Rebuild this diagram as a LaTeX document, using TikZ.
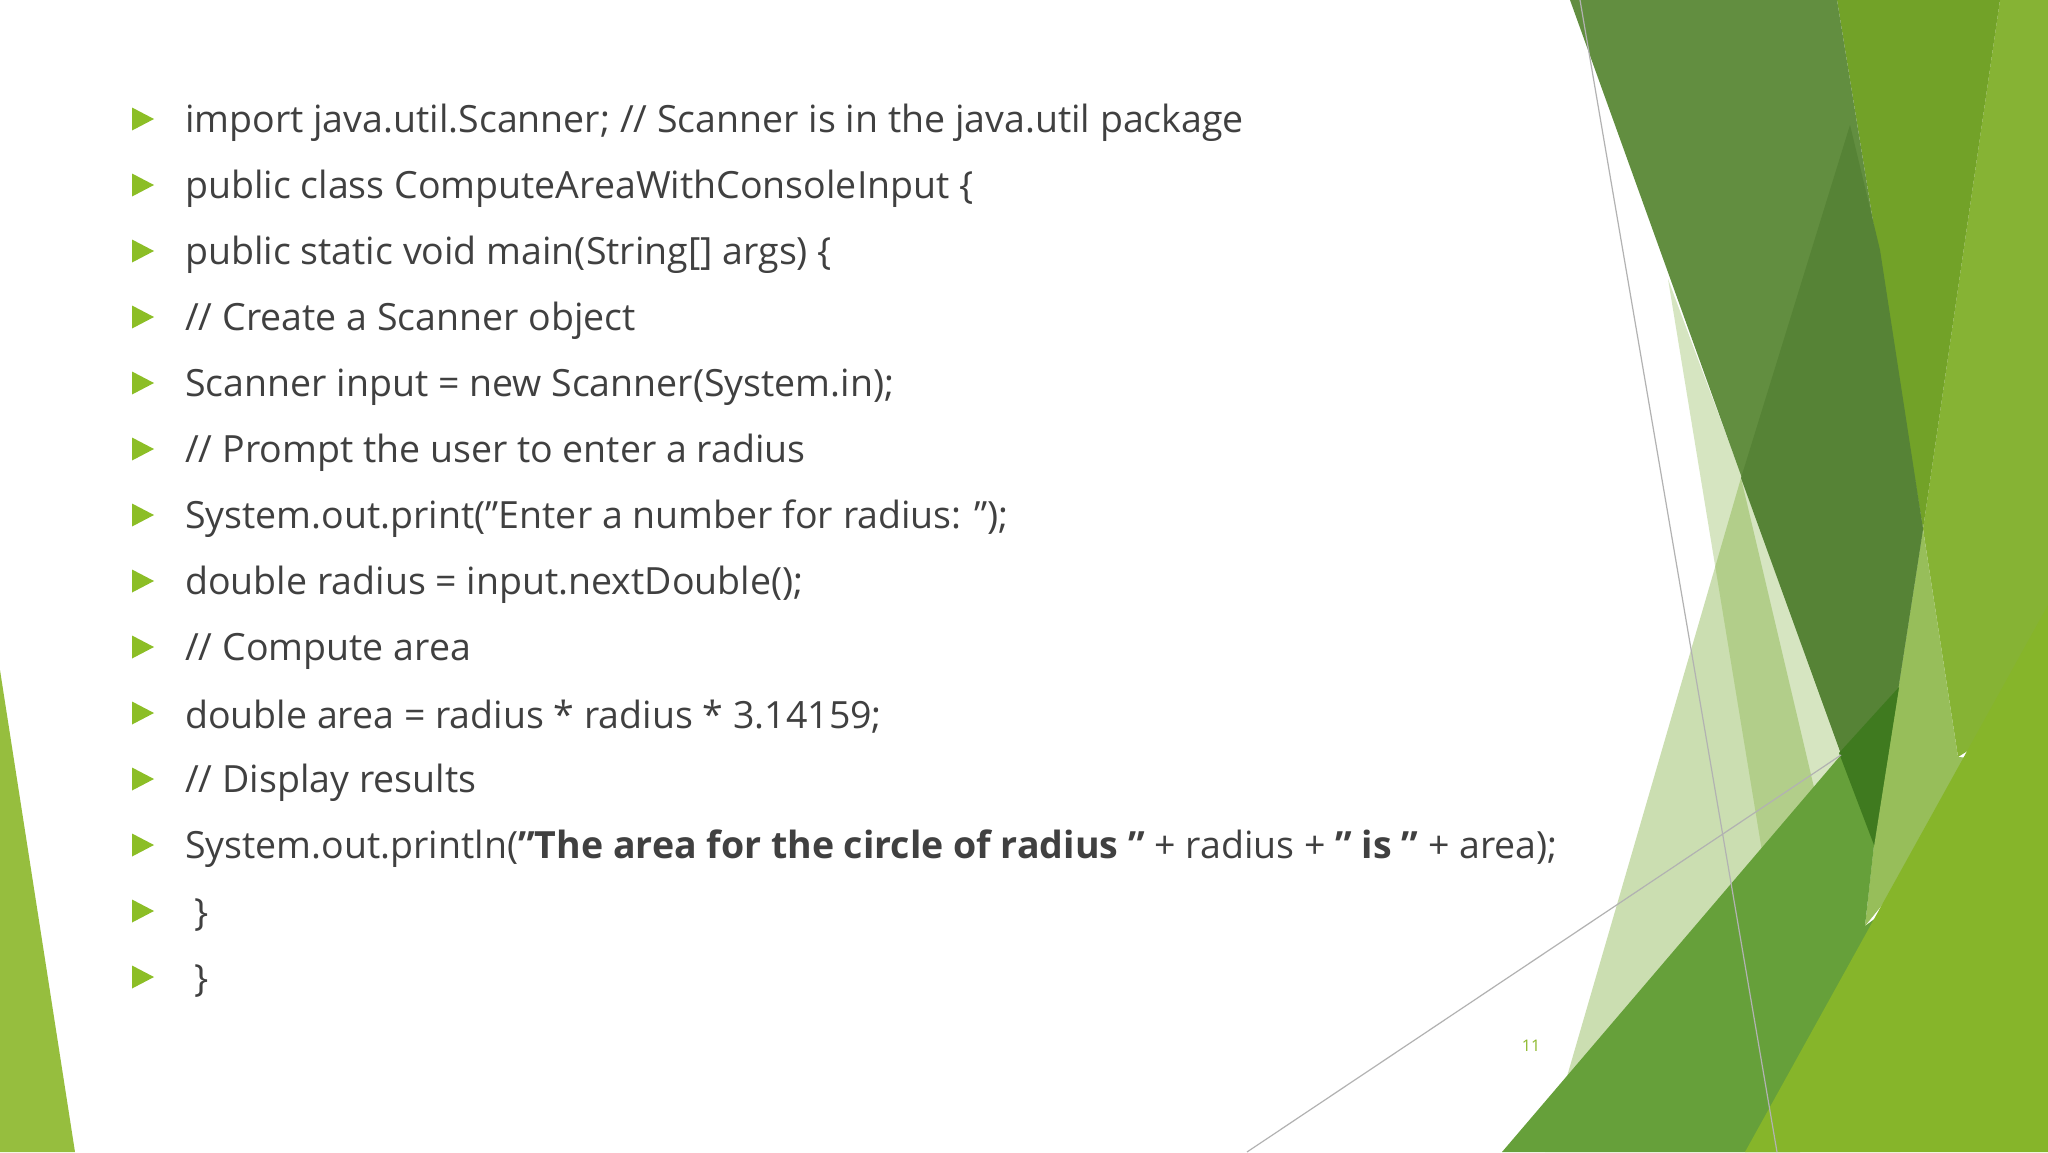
\documentclass[tikz,border=0pt]{standalone}
\usepackage{fontspec}
\setmainfont{Open Sans}
\definecolor{cleft}{RGB}{150,190,62}
\definecolor{cpale}{RGB}{120,170,50}
\definecolor{cright}{RGB}{134,179,52}
\definecolor{cpale2}{RGB}{151,190,90}
\definecolor{cmid}{RGB}{114,162,40}
\definecolor{cdark}{RGB}{98,142,64}
\definecolor{cdarker}{RGB}{86,131,54}
\definecolor{cband}{RGB}{102,160,58}
\definecolor{cdeep}{RGB}{63,122,31}
\definecolor{cbright}{RGB}{134,181,42}
\definecolor{cbullet}{RGB}{140,190,38}
\definecolor{cpage}{RGB}{140,184,42}
\newcommand{\dq}{\symbol{34}}
\begin{document}
\begin{tikzpicture}[x=1pt,y=-1pt,
  codeline/.style={anchor=west,text=black!75,font=\fontsize{37.5}{44}\selectfont,inner sep=0pt},
  bullet/.style={fill=cbullet},
  thinline/.style={draw=black!30,line width=1.2pt}]
\useasboundingbox (0,0) rectangle (2048,1152);
\fill[white] (0,0) rectangle (2048,1152);
% left triangle
\fill[cleft] (0,670) -- (75,1152) -- (0,1152) -- cycle;
% pale triangles
\fill[cpale,opacity=0.3] (1668,279) -- (1770,900) -- (1900,900) -- cycle;
\fill[cpale,opacity=0.38] (1741,478) -- (1545,1152) -- (1900,1152) -- cycle;
% top right greens
\fill[cright] (2000,0) -- (2048,0) -- (2048,700) -- (1958,757) -- (1923,529) -- cycle;
\fill[cpale2] (1923,529) -- (1958,757) -- (2000,760) -- (1865,926) -- (1874,845) -- cycle;
\fill[cmid] (1837,0) -- (2000,0) -- (1923,529) -- cycle;
% dark green
\fill[cdark] (1570,0) -- (1837,0) -- (1923,529) -- (1874,845) -- cycle;
\fill[cdarker] (1850,125) -- (1741,478) -- (1874,845) -- (1923,529) -- (1880,250) -- cycle;
% band
\fill[cband] (1502,1152) -- (1899,687) -- (1874,845) -- (1865,926) -- (1900,900) -- (1800,1152) -- cycle;
\fill[cdeep] (1839,753) -- (1899,687) -- (1874,845) -- cycle;
% bright triangle
\fill[cbright] (2048,605) -- (1745,1152) -- (2048,1152) -- cycle;
% thin lines
\coordinate (l1a) at (1580,0); \coordinate (l1b) at (1777,1152);
\coordinate (l2a) at (1247,1152); \coordinate (l2b) at (1841,755);
\draw[thinline] (l1a) -- (l1b);
\draw[thinline] (l2a) -- (l2b);
% text
\foreach \i/\t in {0/{import java.util.Scanner; // Scanner is in the java.util package},
 1/{public class ComputeAreaWithConsoleInput \{},
 2/{public static void main(String[] args) \{},
 3/{// Create a Scanner object},
 4/{Scanner input = new Scanner(System.in);},
 5/{// Prompt the user to enter a radius},
 6/{System.out.print(\dq Enter a number for radius: \dq);},
 7/{double radius = input.nextDouble();},
 8/{// Compute area},
 9/{double area = radius * radius * 3.14159;},
 10/{// Display results},
 11/{System.out.println(\textbf{\dq The area for the circle of radius \dq} + radius + \textbf{\dq\ is \dq} + area);},
 12/{\ \}},
 13/{\ \}}}{
  \fill[bullet] (132,{119+66*\i-11.5}) -- (154,{119+66*\i}) -- (132,{119+66*\i+11.5}) -- cycle;
  \node[codeline] (t\i) at (185,{123+66*\i}) {\t};
}
\node[text=cpage,font=\fontsize{16}{18}\selectfont] (pg) at (1531,1046) {11};
\end{tikzpicture}
\end{document}
